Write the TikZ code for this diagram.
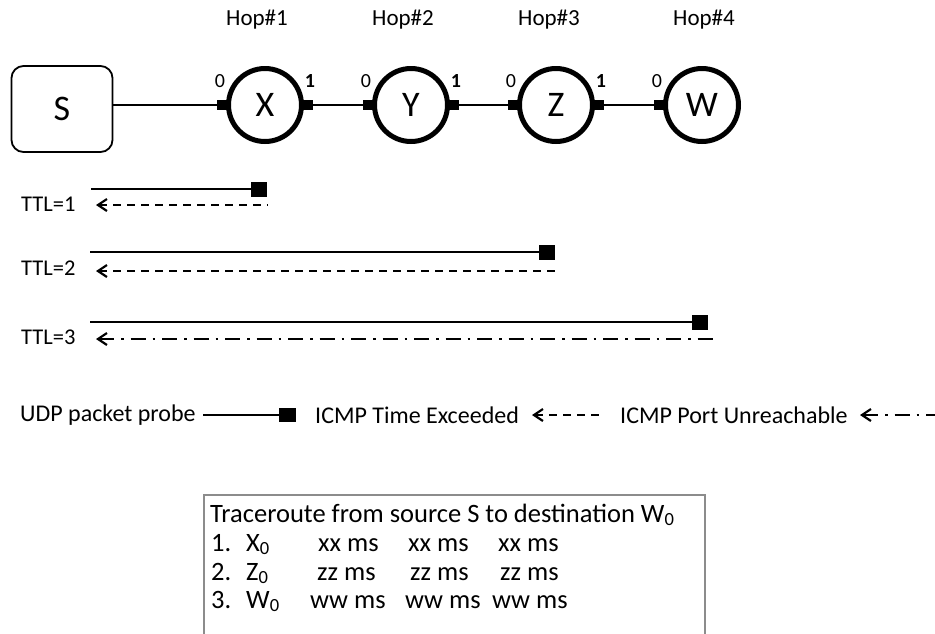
\documentclass[tikz,border=0pt]{standalone}
\usepackage{fontspec}
\setmainfont{Carlito}
\usetikzlibrary{arrows.meta}
\begin{document}
\begin{tikzpicture}[x=1pt,y=-1pt,
  hop/.style={circle,draw,line width=5pt,minimum size=73pt,inner sep=0pt,
    font=\fontsize{36}{40}\selectfont},
  host/.style={draw,line width=1.8pt,rounded corners=12pt,minimum width=101pt,
    minimum height=86pt,inner sep=0pt,font=\fontsize{36}{40}\selectfont},
  port/.style={fill=black,minimum width=10pt,minimum height=10pt,inner sep=0pt,outer sep=0pt},
  probe/.style={fill=black,minimum width=16pt,minimum height=15pt,inner sep=0pt,outer sep=0pt},
  hoplabel/.style={font=\fontsize{23}{27}\selectfont,inner sep=0pt},
  portlabel/.style={font=\fontsize{20}{22}\selectfont,inner sep=0pt},
  ttl/.style={font=\fontsize{22.5}{25}\selectfont,inner sep=0pt,anchor=west},
  legend/.style={font=\fontsize{24}{28}\selectfont,inner sep=0pt,anchor=west},
  boxtext/.style={font=\fontsize{26.5}{30}\selectfont,inner sep=0pt,anchor=base west},
  wire/.style={line width=2pt},
  tip/.style={{Straight Barb[length=9pt,width=12pt,line width=2.2pt]}-},
  reply/.style={tip,line width=2.2pt,dash pattern=on 8pt off 6pt},
  unreach/.style={tip,line width=2.2pt,dash pattern=on 15pt off 7pt on 2.5pt off 7pt},
]
\useasboundingbox (0,0) rectangle (935,633);
\clip (0,0) rectangle (935,633);

% source host and the four hops
\node[host] (S) at (62,109) {S};
\foreach \n/\x/\h/\hx in {X/265/1/257,Y/411/2/403,Z/556/3/549,W/702/4/704}{
  \node[hop] (\n) at (\x,105) {\n};
  \node[hoplabel] (hop\h) at (\hx,20) {Hop\#\h};
  \node[port] (\n0) at (\x-43,105) {};
  \node[portlabel] (\n0l) at (\x-45,81) {0};
}
\foreach \n/\x in {X/265,Y/411,Z/556}{
  \node[port] (\n1) at (\x+43,105) {};
  \node[portlabel,font=\fontsize{20}{22}\selectfont\bfseries] (\n1l) at (\x+45,81) {1};
}
\draw[wire] (S.east |- X0) -- (X0);
\draw[wire] (X1) -- (Y0);
\draw[wire] (Y1) -- (Z0);
\draw[wire] (Z1) -- (W0);

% probes per TTL value
\node[ttl] (t1) at (21,204) {TTL=1};
\coordinate (p1) at (91,189);
\node[probe] (q1) at (259,189) {};
\draw[wire] (p1) -- (q1);
\coordinate (a1) at (96,205);
\coordinate (b1) at (268,205);
\draw[reply] (a1) -- (b1);

\node[ttl] (t2) at (21,268) {TTL=2};
\coordinate (p2) at (90,252);
\node[probe] (q2) at (547,252) {};
\draw[wire] (p2) -- (q2);
\coordinate (a2) at (96,271);
\coordinate (b2) at (556,271);
\draw[reply] (a2) -- (b2);

\node[ttl] (t3) at (21,337) {TTL=3};
\coordinate (p3) at (90,322);
\node[probe] (q3) at (700,322) {};
\draw[wire] (p3) -- (q3);
\coordinate (a3) at (96,339);
\coordinate (b3) at (713,339);
\draw[unreach] (a3) -- (b3);

% legend
\node[legend] (l1) at (20,415) {UDP packet probe};
\coordinate (m1) at (203,415);
\node[probe,minimum width=17pt,minimum height=14pt] (m2) at (287,415) {};
\draw[wire] (m1) -- (m2);
\node[legend] (l2) at (315,415) {ICMP Time Exceeded};
\coordinate (m3) at (532,415);
\coordinate (m4) at (603,415);
\draw[reply] (m3) -- (m4);
\node[legend] (l3) at (620,415) {ICMP Port Unreachable};
\coordinate (m5) at (860,415);
\coordinate (m6) at (990,415);
\draw[unreach] (m5) -- (m6);

% traceroute output
\node[draw=black!45,line width=2pt,minimum width=501pt,minimum height=180pt,
  anchor=north west,inner sep=0pt] (out) at (203,494) {};
\node[boxtext] (r0) at (210,522) {Traceroute from source S to destination W\textsubscript{0}};
\node[boxtext] (n1) at (211,551) {1.};
\node[boxtext] (h1) at (246,551) {X\textsubscript{0}};
\node[boxtext] (c11) at (318,551) {xx ms};
\node[boxtext] (c12) at (408,551) {xx ms};
\node[boxtext] (c13) at (498,551) {xx ms};
\node[boxtext] (n2) at (211,580) {2.};
\node[boxtext] (h2) at (246,580) {Z\textsubscript{0}};
\node[boxtext] (c21) at (317,580) {zz ms};
\node[boxtext] (c22) at (410,580) {zz ms};
\node[boxtext] (c23) at (500,580) {zz ms};
\node[boxtext] (n3) at (211,608) {3.};
\node[boxtext] (h3) at (246,608) {W\textsubscript{0}};
\node[boxtext] (c31) at (310,608) {ww ms};
\node[boxtext] (c32) at (405,608) {ww ms};
\node[boxtext] (c33) at (492,608) {ww ms};
\end{tikzpicture}
\end{document}
